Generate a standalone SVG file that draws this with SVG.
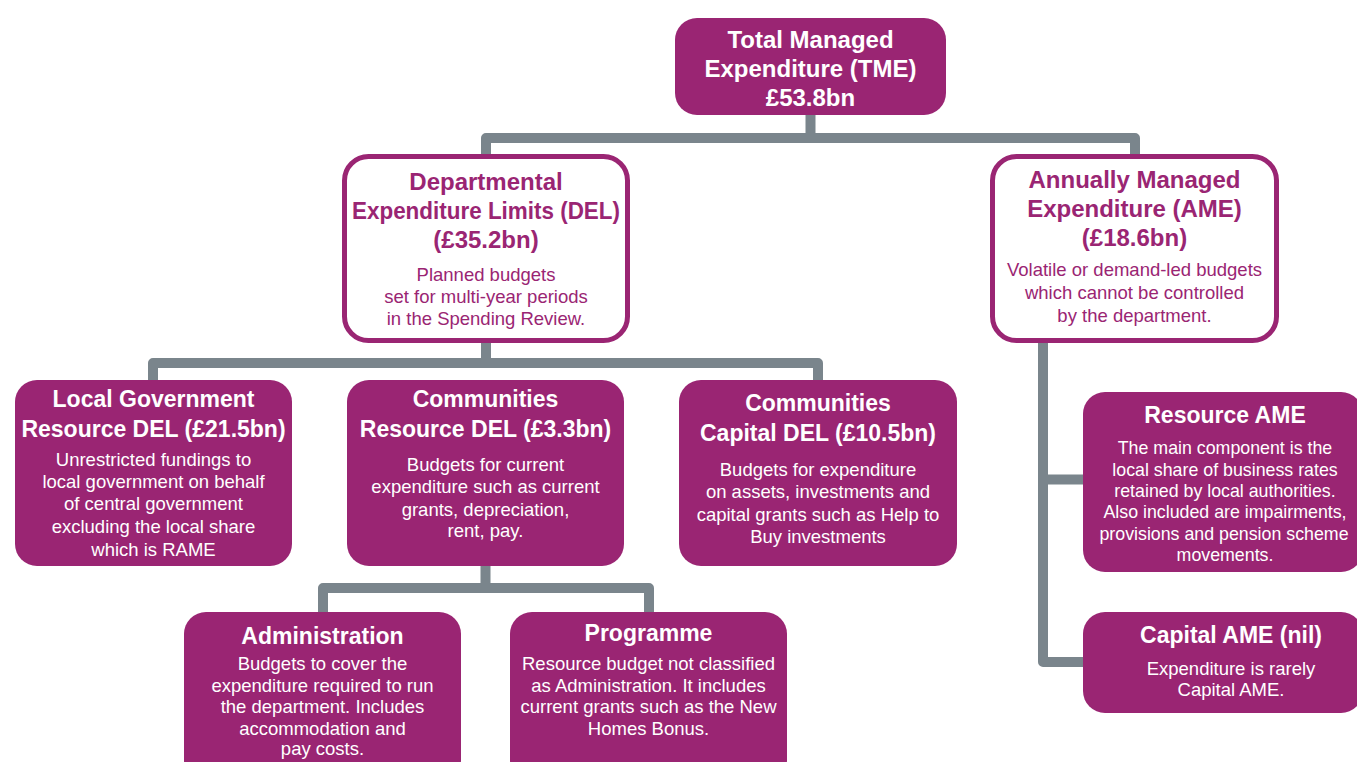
<svg xmlns="http://www.w3.org/2000/svg" width="1357" height="762" viewBox="0 0 1357 762">
<style>
  .fill { fill: #9a2573; }
  .outline { fill: #ffffff; stroke: #9a2573; stroke-width: 5; }
  .conn { fill: none; stroke: #7a858c; stroke-width: 10; stroke-linejoin: round; }
  text { font-family: "Liberation Sans", Arial, sans-serif; text-anchor: middle; }
  .t1 { font-size: 24px; font-weight: bold; }
  .t2 { font-size: 23px; font-weight: bold; }
  .b { font-size: 18.5px; }
  .bs { font-size: 17.8px; }
  .w { fill: #ffffff; }
  .p { fill: #9a2573; }
</style>
<rect width="1357" height="762" fill="#ffffff"/>
<g id="connectors">
  <path class="conn" d="M810.5,112 V138 M486,156 V138 H1135 V156"/>
  <path class="conn" d="M486,340 V363 M153,382 V363 H818 V382"/>
  <path class="conn" d="M485.5,562 V588 M323,614 V588 H649 V614"/>
  <path class="conn" d="M1043,340 V662 H1086 M1043,479.5 H1086"/>
</g>
<g id="tme">
  <rect class="fill" x="675" y="18" width="271" height="97" rx="22"/>
  <text class="t1 w" x="810.5" y="48">Total Managed</text>
  <text class="t1 w" x="810.5" y="77">Expenditure (TME)</text>
  <text class="t1 w" x="810.5" y="106">£53.8bn</text>
</g>
<g id="del">
  <rect class="outline" x="344.5" y="156.5" width="283" height="184" rx="24"/>
  <text class="t1 p" x="486" y="190">Departmental</text>
  <text class="t1 p" x="486" y="219" textLength="268" lengthAdjust="spacingAndGlyphs">Expenditure Limits (DEL)</text>
  <text class="t1 p" x="486" y="248">(£35.2bn)</text>
  <text class="b p" x="486" y="281">Planned budgets</text>
  <text class="b p" x="486" y="303">set for multi-year periods</text>
  <text class="b p" x="486" y="325">in the Spending Review.</text>
</g>
<g id="ame">
  <rect class="outline" x="992.5" y="156.5" width="284" height="184" rx="24"/>
  <text class="t1 p" x="1134.5" y="188">Annually Managed</text>
  <text class="t1 p" x="1134.5" y="217">Expenditure (AME)</text>
  <text class="t1 p" x="1134.5" y="246">(£18.6bn)</text>
  <text class="b p" x="1134.5" y="276">Volatile or demand-led budgets</text>
  <text class="b p" x="1134.5" y="299">which cannot be controlled</text>
  <text class="b p" x="1134.5" y="322">by the department.</text>
</g>
<g id="local-gov">
  <rect class="fill" x="15" y="380" width="277" height="186" rx="22"/>
  <text class="t2 w" x="153.5" y="407">Local Government</text>
  <text class="t2 w" x="153.5" y="437">Resource DEL (£21.5bn)</text>
  <text class="b w" x="153.5" y="466">Unrestricted fundings to</text>
  <text class="b w" x="153.5" y="488">local government on behalf</text>
  <text class="b w" x="153.5" y="510">of central government</text>
  <text class="b w" x="153.5" y="533">excluding the local share</text>
  <text class="b w" x="153.5" y="556">which is RAME</text>
</g>
<g id="comm-resource">
  <rect class="fill" x="347" y="380" width="277" height="186" rx="22"/>
  <text class="t2 w" x="485.5" y="407">Communities</text>
  <text class="t2 w" x="485.5" y="437">Resource DEL (£3.3bn)</text>
  <text class="b w" x="485.5" y="471">Budgets for current</text>
  <text class="b w" x="485.5" y="493">expenditure such as current</text>
  <text class="b w" x="485.5" y="516">grants, depreciation,</text>
  <text class="b w" x="485.5" y="537">rent, pay.</text>
</g>
<g id="comm-capital">
  <rect class="fill" x="679" y="380" width="278" height="186" rx="22"/>
  <text class="t2 w" x="818" y="411">Communities</text>
  <text class="t2 w" x="818" y="441">Capital DEL (£10.5bn)</text>
  <text class="b w" x="818" y="476">Budgets for expenditure</text>
  <text class="b w" x="818" y="498">on assets, investments and</text>
  <text class="b w" x="818" y="521">capital grants such as Help to</text>
  <text class="b w" x="818" y="543">Buy investments</text>
</g>
<g id="administration">
  <rect class="fill" x="184" y="612" width="277" height="170" rx="22"/>
  <text class="t2 w" x="322.5" y="644">Administration</text>
  <text class="b w" x="322.5" y="670">Budgets to cover the</text>
  <text class="b w" x="322.5" y="692">expenditure required to run</text>
  <text class="b w" x="322.5" y="713">the department. Includes</text>
  <text class="b w" x="322.5" y="735">accommodation and</text>
  <text class="b w" x="322.5" y="755">pay costs.</text>
</g>
<g id="programme">
  <rect class="fill" x="510" y="612" width="277" height="170" rx="22"/>
  <text class="t2 w" x="648.5" y="641">Programme</text>
  <text class="b w" x="648.5" y="670">Resource budget not classified</text>
  <text class="b w" x="648.5" y="692">as Administration. It includes</text>
  <text class="b w" x="648.5" y="713">current grants such as the New</text>
  <text class="b w" x="648.5" y="735">Homes Bonus.</text>
</g>
<g id="resource-ame">
  <rect class="fill" x="1083" y="392" width="280" height="180" rx="22"/>
  <text class="t2 w" x="1225" y="423">Resource AME</text>
  <text class="bs w" x="1225" y="454">The main component is the</text>
  <text class="bs w" x="1225" y="476">local share of business rates</text>
  <text class="bs w" x="1225" y="497">retained by local authorities.</text>
  <text class="bs w" x="1225" y="518">Also included are impairments,</text>
  <text class="bs w" x="1224" y="540">provisions and pension scheme</text>
  <text class="bs w" x="1225" y="561">movements.</text>
</g>
<g id="capital-ame">
  <rect class="fill" x="1083" y="612" width="280" height="101" rx="22"/>
  <text class="t2 w" x="1231" y="643">Capital AME (nil)</text>
  <text class="b w" x="1231" y="675">Expenditure is rarely</text>
  <text class="b w" x="1231" y="696">Capital AME.</text>
</g>
</svg>
